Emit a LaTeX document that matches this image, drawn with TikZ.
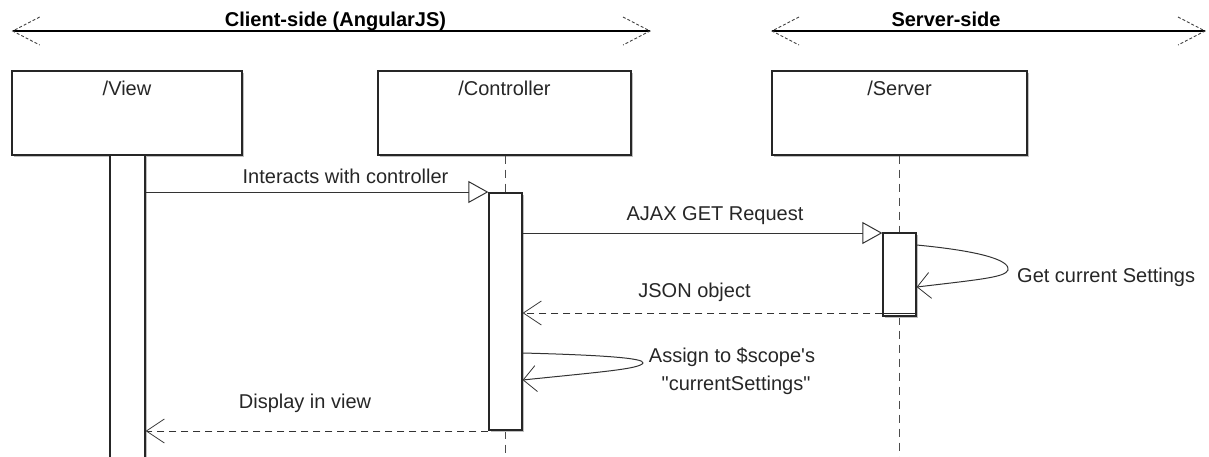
\documentclass[tikz,border=0pt]{standalone}
\usepackage{fontspec}
\setmainfont{Liberation Sans}
\newfontfamily\lbfont{Liberation Sans}
\usetikzlibrary{arrows.meta,shadows}
\begin{document}
\begin{tikzpicture}[x=1pt,y=-1pt,
  lbl/.style={font=\lbfont\fontsize{20}{24}\selectfont, inner sep=0pt, anchor=base, text=black!85},
  ttl/.style={font=\lbfont\fontsize{20}{24}\selectfont\bfseries, inner sep=0pt, anchor=base, text=black},
  shadowed/.style={drop shadow={shadow xshift=2pt,shadow yshift=-2pt,fill=black!25,opacity=1}},
  objbox/.style={draw=black!85, line width=1.3pt, fill=white, minimum height=84pt, inner sep=0pt, shadowed},
  actbar/.style={draw=black!85, line width=1.3pt, fill=white, minimum width=33pt, inner sep=0pt, shadowed},
  lifeline/.style={draw=black!70, line width=1.3pt, dash pattern=on 8pt off 6pt},
  sync/.style={draw=black!80, line width=1pt, -{Triangle[open,length=20pt,width=22pt,line width=1pt]}},
  reply/.style={draw=black!80, line width=1pt, dash pattern=on 7pt off 5pt, -{Straight Barb[length=18pt,width=24pt,line width=0.8pt]}},
  selfmsg/.style={draw=black!80, line width=1pt, -{Straight Barb[length=13pt,width=26pt,line width=0.8pt]}},
  span/.style={draw=black, line width=1.3pt},
  spanhead/.style={draw=black!75, line width=0.9pt, dash pattern=on 3pt off 2pt},
]
\useasboundingbox (0,0) rectangle (1209,456);

% ---- top span arrows ----
\coordinate (cl) at (12.7,31);
\coordinate (cr) at (650,31);
\coordinate (sl) at (772,31);
\coordinate (sr) at (1205,31);
\draw[span] (cl) -- (cr);
\draw[span] (sl) -- (sr);
\draw[spanhead] ([shift={(27,-14)}]cl) -- (cl) -- ([shift={(27,14)}]cl);
\draw[spanhead] ([shift={(-27,-14)}]cr) -- (cr) -- ([shift={(-27,14)}]cr);
\draw[spanhead] ([shift={(27,-14)}]sl) -- (sl) -- ([shift={(27,14)}]sl);
\draw[spanhead] ([shift={(-27,-14)}]sr) -- (sr) -- ([shift={(-27,14)}]sr);
\node[ttl] (ctitle) at (335.5,26.5) {Client-side (AngularJS)};
\node[ttl] (stitle) at (946,26.5) {Server-side};

% ---- object boxes ----
\node[objbox, minimum width=230pt] (vbox) at (127,113) {};
\node[objbox, minimum width=253pt] (cbox) at (504.5,113) {};
\node[objbox, minimum width=255pt] (sbox) at (899.5,113) {};
\node[lbl] (vlab) at (127,95) {/View};
\node[lbl] (clab) at (504.5,95) {/Controller};
\node[lbl] (slab) at (899.5,95) {/Server};

% ---- lifelines ----
\coordinate (cend) at (505.5,460);
\coordinate (send) at (899.5,460);
\node[actbar, minimum height=237pt] (cbar) at (505.5,311.5) {};
\node[actbar, minimum height=83pt] (sbar) at (899.5,274.5) {};
\draw[lifeline] (cbox.south -| cbar.north) -- (cbar.north);
\draw[lifeline] (cbar.south) -- (cend);
\draw[lifeline] (sbox.south -| sbar.north) -- (sbar.north);
\draw[lifeline] (sbar.south) -- (send);
\node[actbar, minimum width=35pt, minimum height=305pt] (vbar) at (127.5,307.5) {};
\node[actbar, minimum height=237pt] (cbar2) at (505.5,311.5) {};
\node[actbar, minimum height=83pt] (sbar2) at (899.5,274.5) {};
\draw[draw=black!85, line width=1pt] ([yshift=3pt]sbar2.south west) -- ([yshift=3pt]sbar2.south east);

% ---- message end points ----
\coordinate (m1a) at (vbar.east |- 0,192);
\coordinate (m1b) at (cbar2.west |- 0,192);
\coordinate (m2a) at (cbar2.east |- 0,233);
\coordinate (m2b) at (sbar2.west |- 0,233);
\coordinate (m3a) at (sbar2.east |- 0,245);
\coordinate (m3t) at (1008,270);
\coordinate (m3b) at (sbar2.east |- 0,287);
\coordinate (m4a) at (sbar2.west |- 0,313);
\coordinate (m4b) at (cbar2.east |- 0,313);
\coordinate (m5a) at (cbar2.east |- 0,353);
\coordinate (m5t) at (643,363);
\coordinate (m5b) at (cbar2.east |- 0,380);
\coordinate (m6a) at (cbar2.west |- 0,431);
\coordinate (m6b) at (vbar.east |- 0,431);

% ---- messages ----
\draw[sync] (m1a) -- (m1b);
\node[lbl] (t1) at (345.5,183) {Interacts with controller};
\draw[sync] (m2a) -- (m2b);
\node[lbl] (t2) at (715,220) {AJAX GET Request};
\draw[selfmsg] (m3a) .. controls (990,252) and (1010,262) .. (m3t) .. controls (1005,277) and (985,279) .. (m3b);
\node[lbl, anchor=base west] (t3) at (1017,282) {Get current Settings};
\draw[reply] (m4a) -- (m4b);
\node[lbl] (t4) at (694.5,297) {JSON object};
\draw[selfmsg] (m5a) .. controls (600,355) and (645,358) .. (m5t) .. controls (640,369) and (600,372) .. (m5b);
\node[lbl] (t5a) at (732,362) {Assign to \$scope's};
\node[lbl] (t5b) at (736,390) {"currentSettings"};
\draw[reply] (m6a) -- (m6b);
\node[lbl] (t6) at (305,408) {Display in view};
\end{tikzpicture}
\end{document}
